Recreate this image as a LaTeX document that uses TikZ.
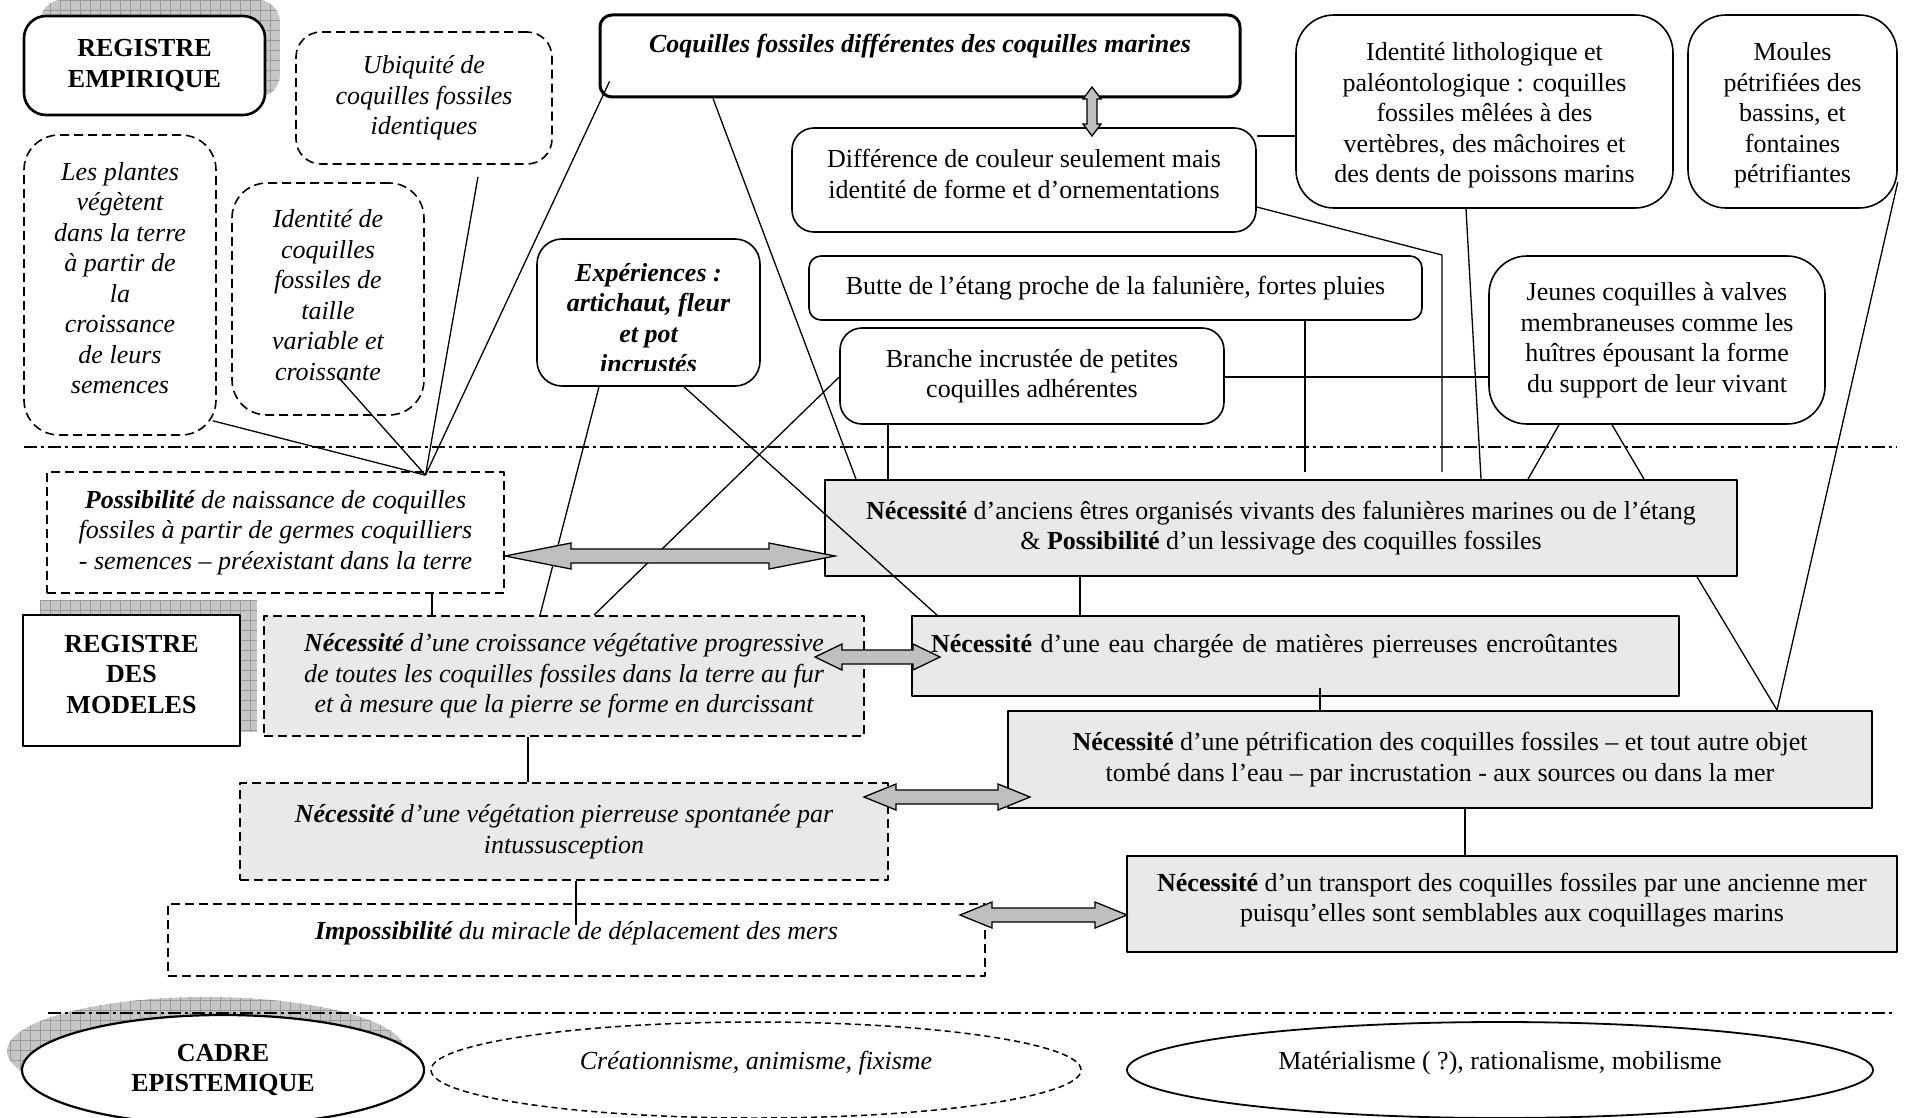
\documentclass[tikz,border=0pt]{standalone}
\usepackage{fontspec}
\setmainfont{Liberation Serif}
\usetikzlibrary{calc,shapes.geometric}
\newcommand\bigfont{\fontsize{26}{30.5}\selectfont}
\newcommand\dblarrow[3][30]{\filldraw[fatarrow] let \p1=#2, \p2=#3 in
  (\p1) -- ++(#1pt,13pt) -- ++(0pt,-6pt) -- (\x2-#1pt,\y2+7pt) -- ++(0pt,6pt) -- (\p2)
  -- ++(-#1pt,-13pt) -- ++(0pt,6pt) -- (\x1+#1pt,\y1-7pt) -- ++(0pt,-6pt) -- cycle;}
\newcommand\vdblarrow[2]{\filldraw[fatarrow] let \p1=#1, \p2=#2 in
  (\p1) -- ++(9pt,-12pt) -- ++(-4pt,0pt) -- (\x2+5pt,\y2+12pt) -- ++(4pt,0pt) -- (\p2)
  -- ++(-9pt,12pt) -- ++(4pt,0pt) -- (\x1-5pt,\y1-12pt) -- ++(-4pt,0pt) -- cycle;}
\begin{document}
\begin{tikzpicture}[x=1pt,y=-1pt,line join=round,font=\bigfont,
  sz/.style 2 args={minimum width=#1pt,minimum height=#2pt},
  txt/.style={align=center,inner sep=0pt},
  rbox/.style={draw,rounded corners=#1,line width=1.6pt,align=center,inner sep=0pt},rbox/.default=20pt,
  dbox/.style={rbox=#1,dash pattern=on 9pt off 5pt,font=\bigfont\itshape},dbox/.default=28pt,
  nbox/.style={draw,fill=gray!17,line width=1.8pt,align=center,inner sep=0pt},
  dnbox/.style={nbox,dash pattern=on 9pt off 5pt,font=\bigfont\itshape},
  hyp/.style={draw,fill=white,line width=1.6pt,dash pattern=on 9pt off 5pt,align=center,inner sep=0pt,font=\bigfont\itshape},
  title/.style={align=center,inner sep=0pt,font=\bigfont\bfseries},
  conn/.style={line width=1.3pt},
  fatarrow/.style={draw,fill=gray!50,line width=1.3pt,line join=miter},
  sep/.style={line width=1.8pt,dash pattern=on 13pt off 4pt on 3pt off 4pt},
  grille/.style={path picture={\fill[gray!45] (path picture bounding box.south west) rectangle (path picture bounding box.north east);
    \draw[gray!80,line width=0.6pt,step=10pt] (path picture bounding box.south west) grid (path picture bounding box.north east);}}]
\useasboundingbox (0,0) rectangle (1905,1118);
\path[grille,rounded corners=22pt] (40,0) rectangle (280,97);
\path[grille] (40,600) rectangle (257,732);
\path[grille] (206,1051) ellipse [x radius=199,y radius=54];
\draw[sep] (24,447) -- (1897,447);
\draw[sep] (48,1013) -- (1894,1013);

\node[rbox=22pt,sz={241}{99},line width=2.6pt,font=\bigfont\bfseries,fill=white] (regemp) at (144.5,65.5) {REGISTRE\\EMPIRIQUE};
\node[dbox=25pt,sz={256}{132}] (ubiq) at (424,98) {Ubiquité de\\coquilles fossiles\\identiques};
\node[dbox=35pt,sz={192}{300},label={[txt,font=\bigfont\itshape,yshift=7pt]center:{Les plantes\\végètent\\dans la terre\\à partir de\\la\\croissance\\de leurs\\semences}}] (plantes) at (120,285) {};
\node[dbox=35pt,sz={192}{232},label={[txt,font=\bigfont\itshape,yshift=4pt]center:{Identité de\\coquilles\\fossiles de\\taille\\variable et\\croissante}}] (identite) at (328,299) {};
\node[rbox=12pt,sz={640}{82},line width=3pt,font=\bigfont\bfseries\itshape,text depth=26pt] (coqdiff) at (920,56) {Coquilles fossiles différentes des coquilles marines};
\node[rbox=22pt,sz={464}{104},label={[txt,yshift=6pt]center:{Différence de couleur seulement mais\\identité de forme et d’ornementations}}] (diff) at (1024,180) {};
\node[rbox=12pt,sz={613}{64}] (butte) at (1115.5,288) {Butte de l’étang proche de la falunière, fortes pluies};
\node[rbox=22pt,sz={384}{96}] (branche) at (1032,376) {Branche incrustée de petites\\coquilles adhérentes};
\node[rbox=25pt,sz={223}{147}] (exper) at (648.5,312.5) {};
\begin{scope}
\clip (537,239) rectangle (760,370);
\node[align=center,font=\bigfont\bfseries\itshape] (experlbl) at (648.5,318) {Expériences :\\artichaut, fleur\\et pot\\incrustés};
\end{scope}
\node[rbox=38pt,sz={377}{193},label={[txt,yshift=-4pt]center:{Identité lithologique et\\paléontologique : coquilles\\fossiles mêlées à des\\vertèbres, des mâchoires et\\des dents de poissons marins}}] (litho) at (1484.5,111.5) {};
\node[rbox=38pt,sz={209}{193},label={[txt,yshift=-4pt]center:{Moules\\pétrifiées des\\bassins, et\\fontaines\\pétrifiantes}}] (moules) at (1792.5,111.5) {};
\node[rbox=38pt,sz={336}{168}] (jeunes) at (1657,340) {Jeunes coquilles à valves\\membraneuses comme les\\huîtres épousant la forme\\du support de leur vivant};

\node[nbox,sz={912}{96}] (anc) at (1281,528) {\textbf{Nécessité} d’anciens êtres organisés vivants des falunières marines ou de l’étang\\\& \textbf{Possibilité} d’un lessivage des coquilles fossiles};
\node[hyp,sz={457}{121}] (possib) at (275.5,532.5) {\textbf{Possibilité} de naissance de coquilles\\fossiles à partir de germes coquilliers\\- semences – préexistant dans la terre};
\node[draw,fill=white,line width=2.6pt,sz={217}{131},title,label={[txt,font=\bigfont\bfseries,yshift=6pt]center:{REGISTRE\\DES\\MODELES}}] (regmod) at (131.5,680.5) {};
\node[dnbox,sz={600}{120}] (croiss) at (564,676) {\textbf{Nécessité} d’une croissance végétative progressive\\de toutes les coquilles fossiles dans la terre au fur\\et à mesure que la pierre se forme en durcissant};
\node[nbox,sz={767}{80},text width=729pt,align=left,inner xsep=19pt,text depth=26pt] (eau) at (1295.5,656) {\textbf{Nécessité} d’une eau chargée de matières pierreuses encroûtantes};
\node[nbox,sz={864}{97}] (petrif) at (1440,759.5) {\textbf{Nécessité} d’une pétrification des coquilles fossiles – et tout autre objet\\tombé dans l’eau – par incrustation - aux sources ou dans la mer};
\node[dnbox,sz={648}{97}] (veget) at (564,831.5) {\textbf{Nécessité} d’une végétation pierreuse spontanée par\\intussusception};
\node[hyp,sz={817}{72},text depth=20pt] (imposs) at (576.5,940) {\textbf{Impossibilité} du miracle de déplacement des mers};
\node[nbox,sz={770}{96},label={[txt,yshift=4pt]center:{\textbf{Nécessité} d’un transport des coquilles fossiles par une ancienne mer\\puisqu’elles sont semblables aux coquillages marins}}] (transp) at (1512,904) {};

\node[ellipse,draw,fill=white,line width=2.2pt,sz={402}{110},title] (cadre) at (223,1070) {CADRE\\EPISTEMIQUE};
\node[ellipse,draw,line width=1.5pt,dash pattern=on 6pt off 4pt,sz={650}{96},inner sep=0pt,font=\bigfont\itshape,text depth=19pt] (creat) at (756,1070) {Créationnisme, animisme, fixisme};
\node[ellipse,draw,line width=1.8pt,sz={746}{96},inner sep=0pt,text depth=19pt] (mater) at (1500,1070) {Matérialisme ( ?), rationalisme, mobilisme};

\coordinate (conv) at ($(possib.north)+(150,4)$);
\draw[conn] (conv) -- ($(plantes.south east)+(-4,-15)$) (conv) -- ($(identite.center)+(11,79)$)
  (conv) -- ($(ubiq.south)+(54,12)$) (conv) -- ($(coqdiff.south west)+(11,-17)$);
\draw[conn] (coqdiff.south -| 713,0) -- (anc.north -| 856,0);
\draw[conn] (diff.east |- 0,207) -- (1442,255) -- (1442,472);
\draw[conn] (diff.east |- 0,136) -- (litho.west |- 0,136);
\draw[conn] (litho.south -| 1466,0) -- (anc.north -| 1481,0);
\draw[conn] (butte.south -| 1305,0) -- (1305,472);
\draw[conn] (branche.west |- 0,377) -- (croiss.north -| 594,0);
\draw[conn] (branche.east |- 0,377) -- (jeunes.west |- 0,377);
\draw[conn] (jeunes.south -| 1559,0) -- (anc.north -| 1528,0);
\draw[conn] (jeunes.south -| 1612,0) -- (anc.north -| 1644,0);
\coordinate (pcoin) at (petrif.north -| 1777,0);
\draw[conn] (moules.east |- 0,182) -- (pcoin) -- (anc.south -| 1697,0);
\draw[conn] (exper.south -| 599,0) -- (croiss.north -| 540,0);
\draw[conn] (exper.south -| 684,0) -- (eau.north -| 937,0);
\draw[conn] (possib.south -| 432,568) -- (croiss.north -| 432,0);
\draw[conn] (1320,688) -- (petrif.north -| 1320,0);
\draw[conn] (veget.south -| 576,0) -- (576,925);
\foreach \a/\b/\x in {branche/anc/888,anc/eau/1080,croiss/veget/528,petrif/transp/1465}
  \draw[conn] (\a.south -| \x,0) -- (\b.north -| \x,0);

\dblarrow[66]{(505,556)}{(835,556)}
\dblarrow[27]{(815,657)}{(940,657)}
\dblarrow[32]{(864,797)}{(1030,797)}
\dblarrow[32]{(960,915)}{(1127,915)}
\vdblarrow{(1092,87)}{(1092,136)}
\end{tikzpicture}
\end{document}
